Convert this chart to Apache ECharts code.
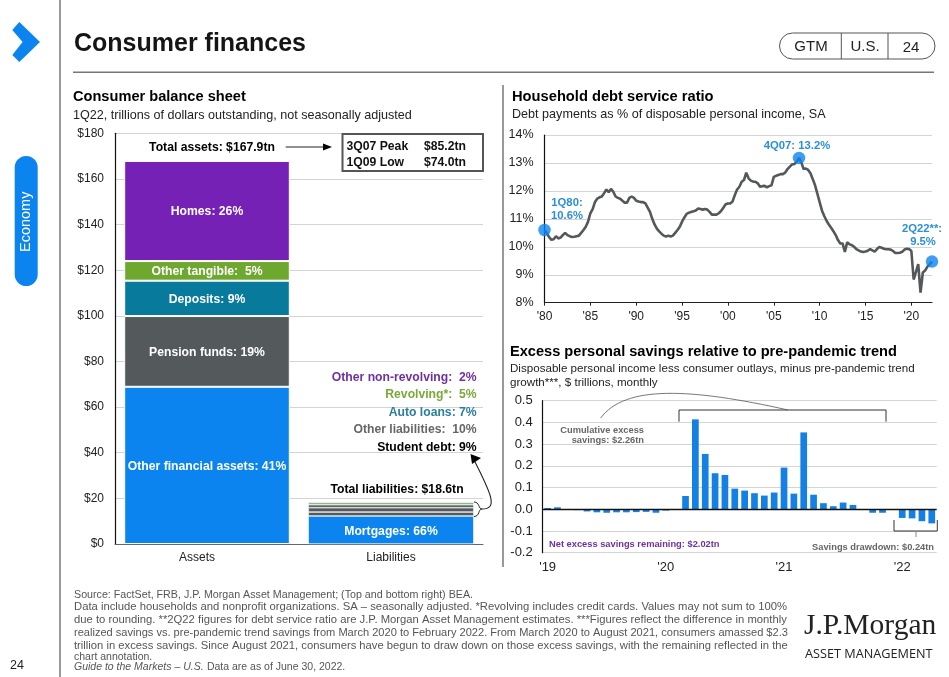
<!DOCTYPE html>
<html><head><meta charset="utf-8">
<style>html,body{margin:0;padding:0;background:#fff}#c{width:949px;height:677px}</style>
<script src="https://cdn.jsdelivr.net/npm/echarts@6/dist/echarts.min.js"></script>
</head><body><div id="c"></div>
<script>
// ---- Consumer balance sheet
const balanceCategories = ['Assets', 'Liabilities'];
const assetNames = ['Other financial assets:', 'Pension funds:', 'Deposits:', 'Other tangible: ', 'Homes:'];
const assetPcts = ['41%', '19%', '9%', '5%', '26%'];
const assetValues = [68.9, 31.0, 15.5, 8.6, 43.9];
const assetColors = ['#0b84f0', '#54595c', '#087a9c', '#6ea82e', '#7521b5'];
const liabilityNames = ['Mortgages:', 'Student debt:', 'Other liabilities: ', 'Auto loans:', 'Revolving*: ', 'Other non-revolving: '];
const liabilityPcts = ['66%', '9%', '10%', '7%', '5%', '2%'];
const liabilityValues = [12.3, 1.7, 1.9, 1.3, 0.9, 0.4];
const liabilityColors = ['#0b84f0', '#54595c', '#54595c', '#54595c', '#5f9a55', '#5f9a55'];
// ---- Household debt service ratio (quarterly, 1Q80 - 2Q22)
const debtTickLabels = ["'80", "'85", "'90", "'95", "'00", "'05", "'10", "'15", "'20"];
const debtRatio = [
10.6,10.5,10.35,10.25, 10.27,10.38,10.3,10.33, 10.42,10.5,10.42,10.38, 10.35,10.36,10.38,10.4,
10.5,10.6,10.72,10.9, 11.2,11.35,11.6,11.72, 11.77,11.8,11.92,12.05, 11.95,12.07,11.97,11.8,
11.75,11.72,11.65,11.58, 11.58,11.75,11.8,11.75, 11.65,11.62,11.6,11.6, 11.55,11.4,11.25,11.0,
10.8,10.65,10.55,10.47, 10.4,10.37,10.4,10.37, 10.4,10.5,10.6,10.72, 10.9,11.05,11.18,11.22,
11.25,11.27,11.3,11.37, 11.35,11.33,11.35,11.33, 11.25,11.15,11.15,11.15, 11.2,11.28,11.4,11.52,
11.55,11.55,11.62,11.85, 12.05,12.15,12.33,12.39, 12.65,12.45,12.37,12.33, 12.33,12.27,12.15,12.17,
12.18,12.13,12.17,12.2, 12.5,12.54,12.57,12.6, 12.6,12.66,12.78,12.87, 12.95,12.96,13.05,13.18,
13.02,12.78,12.8,12.75, 12.63,12.42,12.2,11.9, 11.6,11.3,11.1,10.93, 10.8,10.68,10.56,10.42,
10.24,10.12,10.12,9.82, 10.16,10.09,10.06,10.0, 9.92,9.87,9.83,9.81, 9.83,9.86,9.92,9.87,
9.83,9.92,9.99,9.97, 9.93,9.91,9.91,9.9, 9.85,9.78,9.78,9.79, 9.82,9.9,9.93,9.92,
9.85,8.83,9.1,9.38, 8.36,9.08,9.15,9.29, 9.37,9.47];
const debtMarkers = [[0, 10.6], [111, 13.18], [169, 9.47]];
// ---- Excess personal savings (monthly, Jan 2019 - Apr 2022)
const savingsTickLabels = ["'19", "'20", "'21", "'22"];
const savings = [
0.006,0.009,0,-0.004,-0.01,-0.014,-0.016,-0.014,-0.014,-0.013,-0.012,-0.016,
-0.006,0,0.061,0.414,0.255,0.166,0.158,0.095,0.086,0.074,0.063,0.077,
0.192,0.072,0.354,0.067,0.028,0.014,0.031,0.02,-0.003,-0.016,-0.016,0,
-0.04,-0.042,-0.055,-0.065];

const F = '"Liberation Sans", Arial, sans-serif';
const BLUE = '#0b84f0', ANNO = '#2b8fd8', GRID = '#d4d4d4', RULE = '#777', FOOT = '#555';

function T(x, y, text, o) {
  o = o || {};
  return { type: 'text', z: 100, x: x, y: y + 0.8, rotation: o.rotation || 0, style: {
    text: text, fill: o.color || '#000', align: o.align || 'left', verticalAlign: 'middle',
    font: (o.weight || 'normal') + ' ' + (o.size || 12.2) + 'px ' + (o.family || F)
  }};
}
function L(points, color, w) {
  return { type: 'polyline', z: 100, shape: { points: points }, style: { stroke: color || '#333', lineWidth: w || 1, fill: null } };
}
function A(points, color) {
  return { type: 'polygon', z: 101, shape: { points: points }, style: { fill: color || '#000' } };
}
function C(x1, y1, cx1, cy1, cx2, cy2, x2, y2, color, w) {
  return { type: 'bezierCurve', z: 100, shape: { x1, y1, cpx1: cx1, cpy1: cy1, cpx2: cx2, cpy2: cy2, x2, y2 }, style: { stroke: color || '#333', lineWidth: w || 1, fill: null } };
}

const graphics = [
  // chrome
  L([[60, 0], [60, 677]], RULE, 1.5),
  L([[73, 72.3], [934, 72.3]], RULE, 1.5),
  A([[12.3, 30], [19.3, 22], [40, 42], [19.3, 62], [12.3, 55], [22.6, 42]], BLUE),
  { type: 'rect', z: 100, shape: { x: 14.7, y: 156, width: 23, height: 130, r: 11.5 }, style: { fill: BLUE } },
  T(26, 221, 'Economy', { color: '#fff', size: 14.5, align: 'center', rotation: Math.PI / 2 }),
  T(17, 665, '24', { size: 12.5, align: 'center', color: '#222' }),
  T(74, 43.5, 'Consumer finances', { size: 25, weight: 'bold', color: '#151515' }),
  { type: 'rect', z: 100, shape: { x: 779.5, y: 33, width: 155.5, height: 26, r: 13 }, style: { fill: null, stroke: '#555', lineWidth: 1 } },
  L([[841.3, 33], [841.3, 59]], '#555'), L([[888, 33], [888, 59]], '#555'),
  T(811, 46.5, 'GTM', { size: 15, align: 'center', color: '#222' }),
  T(865, 46.5, 'U.S.', { size: 15, align: 'center', color: '#222' }),
  T(911, 47, '24', { size: 15, align: 'center', color: '#222' }),
  L([[503, 85], [503, 567]], RULE, 1.5),
  // left panel
  T(73, 96, 'Consumer balance sheet', { size: 14.6, weight: 'bold' }),
  T(73, 114.5, '1Q22, trillions of dollars outstanding, not seasonally adjusted', { size: 12.6, color: '#222' }),
  T(212, 147, 'Total assets: $167.9tn', { weight: 'bold', align: 'center' }),
  L([[285.7, 147], [325, 147]], '#222', 1.2), A([[332, 147], [323, 143.5], [323, 150.5]], '#000'),
  { type: 'rect', z: 100, shape: { x: 342.5, y: 134, width: 140.5, height: 37 }, style: { fill: '#fff', stroke: '#555', lineWidth: 2 } },
  T(346.5, 146, '3Q07 Peak', { weight: 'bold', color: '#111' }),
  T(424, 146, '$85.2tn', { weight: 'bold', color: '#111' }),
  T(346.5, 162, '1Q09 Low', { weight: 'bold', color: '#111' }),
  T(424, 162, '$74.0tn', { weight: 'bold', color: '#111' }),
  T(476.7, 376.7, liabilityNames[5] + ' ' + liabilityPcts[5], { weight: 'bold', align: 'right', color: '#7030a0' }),
  T(476.7, 394, liabilityNames[4] + ' ' + liabilityPcts[4], { weight: 'bold', align: 'right', color: '#7aa83a' }),
  T(476.7, 412, liabilityNames[3] + ' ' + liabilityPcts[3], { weight: 'bold', align: 'right', color: '#2a7f9e' }),
  T(476.7, 429, liabilityNames[2] + ' ' + liabilityPcts[2], { weight: 'bold', align: 'right', color: '#666' }),
  T(476.7, 447, liabilityNames[1] + ' ' + liabilityPcts[1], { weight: 'bold', align: 'right' }),
  T(397, 488.5, 'Total liabilities: $18.6tn', { weight: 'bold', align: 'center' }),
  C(474, 502, 480, 502, 478, 509, 482, 509, '#222', 1),
  C(474, 516.5, 480, 516.5, 478, 509, 482, 509, '#222', 1),
  C(482, 509, 498, 509, 492, 495, 473, 458, '#222', 1.1),
  A([[470.5, 454], [481, 458], [472, 464]], '#000'),
  // top right panel
  T(512, 96, 'Household debt service ratio', { size: 14.7, weight: 'bold' }),
  T(512, 113.5, 'Debt payments as % of disposable personal income, SA', { size: 12.6, color: '#222' }),
  T(567, 202, '1Q80:', { size: 11.3, weight: 'bold', align: 'center', color: ANNO }),
  T(567, 215, '10.6%', { size: 11.3, weight: 'bold', align: 'center', color: ANNO }),
  T(797, 145, '4Q07: 13.2%', { size: 11.3, weight: 'bold', align: 'center', color: ANNO }),
  T(922, 228, '2Q22**:', { size: 11.3, weight: 'bold', align: 'center', color: ANNO }),
  T(923, 241, '9.5%', { size: 11.3, weight: 'bold', align: 'center', color: ANNO }),
  // bottom right panel
  T(510, 351, 'Excess personal savings relative to pre-pandemic trend', { size: 14.6, weight: 'bold' }),
  T(510, 368, 'Disposable personal income less consumer outlays, minus pre-pandemic trend', { size: 11.6, color: '#222' }),
  T(510, 382, 'growth***, $ trillions, monthly', { size: 11.6, color: '#222' }),
  L([[679, 421.7], [679, 410], [886, 410], [886, 421.7]], '#333', 1),
  C(600.7, 418, 625, 385, 690, 388, 788, 410, '#555', 0.8),
  T(644, 430, 'Cumulative excess', { size: 9.3, weight: 'bold', align: 'right', color: '#666' }),
  T(644, 440, 'savings: $2.26tn', { size: 9.3, weight: 'bold', align: 'right', color: '#666' }),
  T(549, 544, 'Net excess savings remaining: $2.02tn', { size: 9.3, weight: 'bold', color: '#7030a0' }),
  T(934, 547, 'Savings drawdown: $0.24tn', { size: 9.3, weight: 'bold', align: 'right', color: '#666' }),
  L([[894, 520], [894, 531], [937.3, 531], [937.3, 520]], '#333', 1),
  L([[916, 531], [916, 537]], '#888', 1),
  // footer
  T(74, 594, 'Source: FactSet, FRB, J.P. Morgan Asset Management; (Top and bottom right) BEA.', { size: 10.7, color: FOOT }),
  T(74, 606, 'Data include households and nonprofit organizations. SA – seasonally adjusted. *Revolving includes credit cards. Values may not sum to 100%', { size: 11.27, color: FOOT }),
  T(74, 619, 'due to rounding. **2Q22 figures for debt service ratio are J.P. Morgan Asset Management estimates. ***Figures reflect the difference in monthly', { size: 11.27, color: FOOT }),
  T(74, 632, 'realized savings vs. pre-pandemic trend savings from March 2020 to February 2022. From March 2020 to August 2021, consumers amassed $2.3', { size: 11.07, color: FOOT }),
  T(74, 645, 'trillion in excess savings. Since August 2021, consumers have begun to draw down on those excess savings, with the remaining reflected in the', { size: 11.24, color: FOOT }),
  T(74, 656, 'chart annotation.', { size: 10.5, color: FOOT }),
  { type: 'text', z: 100, x: 74, y: 667.5, style: { rich: { i: { font: 'italic 10.5px ' + F, fill: FOOT }, n: { font: '10.5px ' + F, fill: FOOT } }, text: '{i|Guide to the Markets – U.S.} {n|Data are as of June 30, 2022.}', verticalAlign: 'middle' } },
  T(804, 625, 'J.P.Morgan', { size: 29.5, family: '"Liberation Serif", serif', color: '#222' }),
  T(805, 654, 'ASSET MANAGEMENT', { size: 12.7, family: '"Open Sans", sans-serif', color: '#222' })
];

function stackSeries(values, names, pcts, colors, catIndex, labelled, border) {
  return values.map(function (v, i) {
    const d = balanceCategories.map(function (_, k) { return k === catIndex ? v : '-'; });
    return {
      type: 'bar', stack: 'balance', xAxisIndex: 0, yAxisIndex: 0, data: d, barWidth: '90%',
      itemStyle: { color: colors[i], borderColor: '#fff', borderWidth: border },
      label: { show: labelled(i), position: 'inside', offset: [0, catIndex ? 2 : 1], color: '#fff', fontFamily: F, fontWeight: 'bold', fontSize: 12.2,
        formatter: names[i] + ' ' + pcts[i] }
    };
  });
}

const quarterCats = debtRatio.map(function (_, i) { return (1980 + Math.floor(i / 4)) + 'Q' + (i % 4 + 1); });
const monthCats = savings.map(function (_, i) { return (2019 + Math.floor(i / 12)) + '-' + (i % 12 + 1); });

const option = {
  animation: false,
  backgroundColor: '#fff',
  textStyle: { fontFamily: F },
  graphic: { elements: graphics },
  grid: [
    { left: 115, top: 133.3, width: 368, height: 410.7 },
    { left: 544.5, top: 135, width: 387.5, height: 167.7 },
    { left: 542.7, top: 400.7, width: 394, height: 152 }
  ],
  xAxis: [
    { type: 'category', gridIndex: 0, data: [
        { value: balanceCategories[0], textStyle: { padding: [0, 20, 0, 0] } },
        { value: balanceCategories[1], textStyle: { padding: [0, 0, 0, 0] } }],
      axisLine: { lineStyle: { color: '#666', width: 1.2 } }, axisTick: { show: false },
      axisLabel: { color: '#222', fontSize: 12, margin: 8 } },
    { type: 'category', gridIndex: 1, data: quarterCats, boundaryGap: false,
      axisLine: { lineStyle: { color: '#222', width: 1.2 } },
      axisTick: { length: 3, lineStyle: { color: '#222' }, interval: function (i) { return i % 20 === 0; } },
      axisLabel: { color: '#222', fontSize: 12, margin: 8, hideOverlap: false,
        interval: function (i) { return i % 20 === 0; },
        formatter: function (v, i) { return debtTickLabels[i / 20] || ''; } } },
    { type: 'category', gridIndex: 2, data: monthCats,
      axisLine: { onZero: false, show: false }, axisTick: { show: false },
      axisLabel: { color: '#222', fontSize: 13, margin: 8,
        interval: function (i) { return i % 12 === 0; },
        formatter: function (v, i) { return savingsTickLabels[i / 12] || ''; } } }
  ],
  yAxis: [
    { type: 'value', gridIndex: 0, min: 0, max: 180, interval: 20,
      axisLine: { show: true, lineStyle: { color: '#111', width: 1.2 } }, axisTick: { show: false },
      splitLine: { lineStyle: { color: GRID, width: 1 } },
      axisLabel: { color: '#222', fontSize: 12, margin: 11, formatter: function (v) { return '$' + v; } } },
    { type: 'value', gridIndex: 1, min: 8, max: 14, interval: 1,
      axisLine: { show: true, lineStyle: { color: '#111', width: 1.2 } }, axisTick: { show: false },
      splitLine: { lineStyle: { color: GRID, width: 1 } },
      axisLabel: { color: '#222', fontSize: 12.5, margin: 11, formatter: function (v) { return v + '%'; } } },
    { type: 'value', gridIndex: 2, min: -0.2, max: 0.5, interval: 0.1,
      axisLine: { show: true, lineStyle: { color: '#111', width: 1.2 } }, axisTick: { show: false },
      splitLine: { lineStyle: { color: GRID, width: 1 } },
      axisLabel: { color: '#222', fontSize: 13, margin: 10, formatter: function (v) { return v.toFixed(1); } } }
  ],
  series: [].concat(
    stackSeries(assetValues, assetNames, assetPcts, assetColors, 0, function () { return true; }, 1),
    stackSeries(liabilityValues, liabilityNames, liabilityPcts, liabilityColors, 1, function (i) { return i === 0; }, 0.6),
    [
      { type: 'line', xAxisIndex: 1, yAxisIndex: 1, data: debtRatio, showSymbol: false,
        lineStyle: { color: '#54585a', width: 2.6 }, z: 3 },
      { type: 'scatter', xAxisIndex: 1, yAxisIndex: 1, data: debtMarkers, symbolSize: 12.5,
        itemStyle: { color: BLUE }, z: 4 },
      { type: 'bar', xAxisIndex: 2, yAxisIndex: 2, data: savings, barWidth: '68%',
        itemStyle: { color: '#1480e4' },
        markLine: { silent: true, symbol: 'none', label: { show: false },
          lineStyle: { color: '#111', width: 1.4, type: 'solid' }, data: [{ yAxis: 0 }] } }
    ])
};
const chart = echarts.init(document.getElementById('c'), null, { renderer: 'canvas' });
chart.setOption(option);
</script></body></html>
